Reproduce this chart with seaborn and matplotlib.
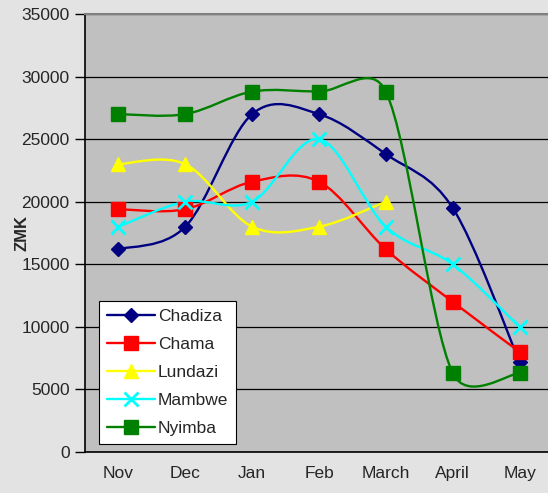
import numpy as np
import matplotlib
matplotlib.use("Agg")
import matplotlib.pyplot as plt
import seaborn as sns
from matplotlib.path import Path
from matplotlib.patches import PathPatch
from matplotlib.lines import Line2D

# data
months = ["Nov", "Dec", "Jan", "Feb", "March", "April", "May"]
chadiza = [16200, 18000, 27000, 27000, 23800, 19500, 7200]
chama = [19400, 19400, 21600, 21600, 16200, 12000, 8000]
lundazi = [23000, 23000, 18000, 18000, 20000, np.nan, np.nan]
mambwe = [18000, 20000, 20000, 25000, 18000, 15000, 10000]
nyimba = [27000, 27000, 28800, 28800, 28800, 6300, 6300]

series = [
    ("Chadiza", chadiza, "#000080", "D", 7.5),
    ("Chama", chama, "#ff0000", "s", 10),
    ("Lundazi", lundazi, "#ffff00", "^", 10),
    ("Mambwe", mambwe, "#00ffff", "x", 10),
    ("Nyimba", nyimba, "#008000", "s", 10),
]

sns.set_style("white")
plt.rcParams["font.family"] = ["Liberation Sans", "DejaVu Sans"]

fig = plt.figure(figsize=(5.48, 4.93), dpi=100, facecolor="#e3e3e3")
ax = fig.add_axes([85 / 548, 41 / 493, 468 / 548, 438 / 493])
ax.set_facecolor("#c0c0c0")
ax.set_xlim(-0.5, len(months) - 0.5)
ax.set_ylim(0, 35000)


def smooth_curve(ax, x, y, color, tension=1 / 6, limit=0.5):
    # Excel-like smoothed line: cubic bezier through the points (display space)
    pts = ax.transData.transform(np.column_stack([x, y]))
    n = len(pts)
    verts = [pts[0]]
    codes = [Path.MOVETO]
    for i in range(n - 1):
        p0 = pts[max(i - 1, 0)]
        p1 = pts[i]
        p2 = pts[i + 1]
        p3 = pts[min(i + 2, n - 1)]
        seg = np.hypot(*(p2 - p1))
        d1 = (p2 - p0) * tension
        d2 = (p3 - p1) * tension
        for d in (d1, d2):
            ln = np.hypot(*d)
            if ln > limit * seg:
                d *= limit * seg / ln
        verts += [p1 + d1, p2 - d2, p2]
        codes += [Path.CURVE4] * 3
    verts = ax.transData.inverted().transform(np.array(verts))
    ax.add_patch(PathPatch(Path(verts, codes), fill=False, edgecolor=color,
                           lw=1.7, zorder=3))


xs = np.arange(len(months))
handles = []
for name, vals, color, mk, ms in series:
    v = np.array(vals, dtype=float)
    ok = ~np.isnan(v)
    smooth_curve(ax, xs[ok], v[ok], color)
    mew = 2 if mk == "x" else 1
    sns.lineplot(x=xs[ok], y=v[ok], ax=ax, color=color, marker=mk, markersize=ms,
                 linestyle="", markeredgecolor=color, markeredgewidth=mew, zorder=4)
    handles.append(Line2D([], [], color=color, lw=1.7, marker=mk, markersize=ms,
                          markeredgecolor=color, markeredgewidth=mew, label=name))

# axes styling
ax.set_yticks(np.arange(0, 35001, 5000))
ax.yaxis.grid(True, color="black", lw=0.9)
ax.set_axisbelow(True)
ax.set_xticks(np.arange(-0.5, len(months)), minor=False)
ax.set_xticklabels([])
ax.set_xticks(xs, minor=True)
ax.set_xticklabels(months, minor=True, fontsize=12.5)
ax.tick_params(axis="x", which="major", direction="out", length=6, width=1, color="black")
ax.tick_params(axis="x", which="minor", length=0, pad=10)
ax.tick_params(axis="y", direction="out", length=7, width=1, color="black",
               labelsize=12.5, pad=4, left=True)
for s in ["left", "bottom"]:
    ax.spines[s].set_color("black")
    ax.spines[s].set_linewidth(1.2)
ax.spines["top"].set_color("#808080")
ax.spines["top"].set_linewidth(1.5)
ax.spines["right"].set_visible(False)

ax.set_ylabel("ZMK", fontsize=12, fontweight="bold")
ax.yaxis.set_label_coords(-0.118, 0.5)

leg = ax.legend(handles=handles, loc="lower left", bbox_to_anchor=(0.03, 0.018),
                borderaxespad=0, fontsize=12.5, frameon=True, fancybox=False,
                edgecolor="black", framealpha=1, handlelength=2.75,
                labelspacing=0.75, borderpad=0.45, handletextpad=0.2)
leg.get_frame().set_linewidth(0.8)

fig.savefig("out.png", dpi=100, facecolor=fig.get_facecolor())
